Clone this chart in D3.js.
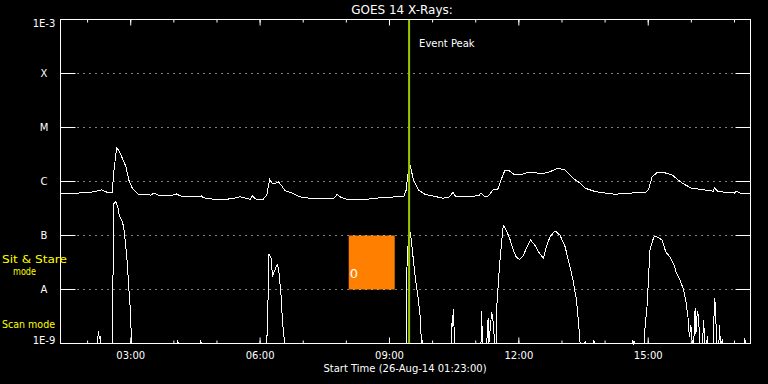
<!DOCTYPE html>
<html>
<head>
<meta charset="utf-8">
<script src="https://cdn.jsdelivr.net/npm/d3@7.9.0/dist/d3.min.js"></script>
<style>
  html, body { margin: 0; padding: 0; background: #000; }
  svg { display: block; font-family: "DejaVu Sans", sans-serif; }
</style>
</head>
<body>
<svg id="chart" width="768" height="384"></svg>
<script>
// long channel (1-8 A)
const longTimes = ['01:23','01:41','01:55','02:09','02:20','02:26','02:35','02:37','02:41','02:44','02:49','02:54','02:58','03:03','03:11','03:29','03:33','03:42','03:56','04:05','04:09','04:28','04:39','04:42','04:56','05:15','05:26','05:33','05:47','05:50','05:55','06:05','06:10','06:14','06:17','06:20','06:26','06:31','06:35','06:45','06:56','07:10','07:29','07:43','07:48','07:52','08:01','08:29','08:48','09:09','09:21','09:24','09:26','09:30','09:34','09:41','09:50','10:01','10:15','10:24','10:29','10:33','10:54','11:06','11:08','11:13','11:18','11:25','11:32','11:36','11:41','11:46','11:55','12:02','12:11','12:21','12:32','12:44','12:55','13:05','13:16','13:26','13:33','13:47','14:01','14:15','14:33','14:57','15:01','15:06','15:13','15:20','15:34','15:48','16:01','16:19','16:31','16:33','16:38','17:01','17:03','17:10','17:23'];
const longFlux = [6.0e-7,5.9e-7,6.3e-7,6.4e-7,7.0e-7,6.4e-7,6.3e-7,1.42e-6,4.2e-6,3.8e-6,2.7e-6,1.9e-6,1.07e-6,7.5e-7,5.8e-7,5.6e-7,6.1e-7,5.4e-7,5.4e-7,5.9e-7,5.4e-7,5.2e-7,5.4e-7,5.0e-7,4.7e-7,4.7e-7,4.95e-7,5.2e-7,4.7e-7,5.4e-7,4.7e-7,4.7e-7,5.6e-7,1.10e-6,9.4e-7,9.0e-7,9.9e-7,8.3e-7,6.8e-7,6.1e-7,5.2e-7,4.9e-7,4.9e-7,4.8e-7,5.8e-7,5.2e-7,4.7e-7,4.7e-7,5.0e-7,5.2e-7,5.4e-7,7.0e-7,1.32e-6,1.88e-6,1.07e-6,7.0e-7,5.8e-7,5.4e-7,4.9e-7,5.2e-7,6.3e-7,5.2e-7,5.2e-7,5.6e-7,6.2e-7,5.2e-7,5.4e-7,7.0e-7,7.3e-7,1.07e-6,1.58e-6,1.63e-6,1.32e-6,1.32e-6,1.44e-6,1.48e-6,1.38e-6,1.52e-6,1.75e-6,1.63e-6,1.15e-6,9.3e-7,7.5e-7,6.5e-7,6.1e-7,5.8e-7,6.1e-7,6.2e-7,7.0e-7,1.20e-6,1.48e-6,1.50e-6,1.32e-6,9.3e-7,7.5e-7,7.0e-7,6.6e-7,7.6e-7,6.5e-7,6.1e-7,6.7e-7,5.9e-7,6.1e-7];

// short channel (0.5-4 A), floor at 1E-9
const shortTimes = ['01:23','02:14','02:16','02:17','02:18','02:19','02:35','02:36','02:37','02:40','02:43','02:45','02:49','02:51','02:53','02:56','02:58','03:00','03:02','04:05','04:06','04:07','04:37','04:38','04:39','06:10','06:11','06:12','06:13','06:16','06:18','06:20','06:23','06:25','06:27','06:30','06:32','06:35','09:24','09:25','09:27','09:30','09:32','09:34','09:37','09:39','09:41','09:44','09:45','09:46','09:47','10:27','10:28','10:29','10:30','10:31','11:08','11:09','11:10','11:16','11:18','11:19','11:21','11:23','11:25','11:27','11:29','11:30','11:34','11:39','11:43','11:48','11:53','11:57','12:02','12:07','12:11','12:17','12:23','12:28','12:35','12:39','12:44','12:51','12:58','13:05','13:12','13:16','13:21','13:25','13:26','13:32','13:33','13:34','13:44','13:45','13:46','14:38','14:39','14:40','14:41','14:42','14:55','14:56','14:59','15:01','15:03','15:07','15:09','15:15','15:20','15:25','15:31','15:36','15:40','15:45','15:50','15:53','15:56','15:58','16:00','16:02','16:04','16:06','16:07','16:09','16:11','16:12','16:16','16:18','16:19','16:22','16:23','16:24','16:31','16:33','16:34','16:36','16:39','16:40','16:41','16:44','16:45','17:14','17:15','17:16','17:23'];
const shortFlux = [1e-9,1e-9,1.7e-9,1.2e-9,1.4e-9,1e-9,1e-9,1.5e-8,3.9e-7,4.2e-7,3.2e-7,2.3e-7,1.8e-7,1.4e-7,8.2e-8,3.0e-8,1.1e-8,4.5e-9,1e-9,1e-9,1.1e-9,1e-9,1e-9,1.1e-9,1e-9,1e-9,2.9e-9,9e-9,4.6e-8,3.75e-8,1.7e-8,2.1e-8,2.6e-8,2.9e-8,2.0e-8,7.3e-9,2.35e-9,1e-9,1e-9,2.5e-8,8.8e-8,1.09e-7,6.2e-8,3.5e-8,1.5e-8,9.7e-9,6.3e-9,2.7e-9,1e-9,1.15e-9,1e-9,1e-9,3.3e-9,2e-9,4.3e-9,1e-9,1e-9,4.0e-9,1e-9,1e-9,3.0e-9,1e-9,2e-9,3.9e-9,2.5e-9,1e-9,1e-9,4.8e-9,3.0e-8,1.55e-7,1.25e-7,8.8e-8,5.3e-8,4.0e-8,3.6e-8,4.3e-8,5.7e-8,8.2e-8,6.6e-8,5.0e-8,3.75e-8,6.2e-8,9.4e-8,1.22e-7,1.01e-7,6.2e-8,2.6e-8,1.5e-8,6.3e-9,1.5e-9,1e-9,1e-9,1.1e-9,1e-9,1e-9,1.15e-9,1e-9,1e-9,1.15e-9,1e-9,1.1e-9,1e-9,1e-9,1.8e-9,4.8e-9,1.5e-8,5.3e-8,8.2e-8,9.7e-8,9.2e-8,8.2e-8,5.0e-8,4.0e-8,3.0e-8,2.0e-8,1.5e-8,9.7e-9,6.3e-9,3.1e-9,1.3e-9,2.2e-9,1e-9,1e-9,4.6e-9,1.5e-9,3.9e-9,3.1e-9,1e-9,1e-9,2.7e-9,1e-9,1e-9,1.4e-9,1e-9,1e-9,6.8e-9,5.5e-9,1e-9,1e-9,2.2e-9,1e-9,1.15e-9,1e-9,1e-9,1.25e-9,1e-9,1e-9];

const yLevels = [1e-9, 1e-8, 1e-7, 1e-6, 1e-5, 1e-4, 1e-3];
const yLabels = ['1E-9', 'A', 'B', 'C', 'M', 'X', '1E-3'];
const gridLevels = [1e-8, 1e-7, 1e-6, 1e-5, 1e-4];

const startTime = '01:23';
const endTime = '17:23';
const eventPeak = '09:28';
const boxStart = '08:04';
const boxEnd = '09:08';
const boxLow = 1e-8;
const boxHigh = 1e-7;

const parse = d3.timeParse('%H:%M');
const svg = d3.select('#chart');
const plotLeft = 60.5, plotRight = 750.5, plotTop = 19.5, plotBottom = 343.5;

const x = d3.scaleTime().domain([parse(startTime), parse(endTime)]).range([plotLeft, plotRight]);
const y = d3.scaleLog().domain([1e-9, 1e-3]).range([plotBottom, plotTop]).clamp(true);

svg.append('rect').attr('width', 768).attr('height', 384).attr('fill', '#000');

// orange box
svg.append('rect')
  .attr('x', x(parse(boxStart)))
  .attr('y', y(boxHigh))
  .attr('width', x(parse(boxEnd)) - x(parse(boxStart)))
  .attr('height', y(boxLow) - y(boxHigh))
  .attr('fill', '#ff8000');
svg.append('text')
  .attr('x', x(parse(boxStart)) + 1)
  .attr('y', y(boxLow) - 12)
  .attr('fill', '#fff')
  .attr('font-size', 13)
  .text('0');

// dotted grid + solid end ticks
gridLevels.forEach((v) => {
  const yy = Math.round(y(v) - 0.5) + 0.5;
  svg.append('line')
    .attr('x1', plotLeft + 17).attr('x2', plotRight - 15)
    .attr('y1', yy).attr('y2', yy)
    .attr('stroke', '#fff').attr('stroke-dasharray', '1,5');
  svg.append('line').attr('x1', plotLeft).attr('x2', plotLeft + 15).attr('y1', yy).attr('y2', yy).attr('stroke', '#fff');
  svg.append('line').attr('x1', plotRight - 15).attr('x2', plotRight).attr('y1', yy).attr('y2', yy).attr('stroke', '#fff');
});

const line = d3.line()
  .x((d) => x(d.t))
  .y((d) => y(d.f));

const longData = longTimes.map((t, i) => ({ t: parse(t), f: longFlux[i] }));
const shortData = shortTimes.map((t, i) => ({ t: parse(t), f: shortFlux[i] }));

[longData, shortData].forEach((data) => {
  svg.append('path')
    .datum(data)
    .attr('d', line)
    .attr('fill', 'none')
    .attr('stroke', '#fff')
    .attr('stroke-width', 1)
    .attr('shape-rendering', 'crispEdges');
});

// event peak marker
svg.append('line')
  .attr('x1', x(parse(eventPeak))).attr('x2', x(parse(eventPeak)))
  .attr('y1', plotTop).attr('y2', plotBottom)
  .attr('stroke', '#99cc00').attr('stroke-width', 2);
svg.append('text')
  .attr('x', x(parse(eventPeak)) + 10)
  .attr('y', 46.5)
  .attr('fill', '#fff')
  .attr('font-size', 10)
  .text('Event Peak');

// frame
svg.append('rect')
  .attr('x', plotLeft).attr('y', plotTop)
  .attr('width', plotRight - plotLeft).attr('height', plotBottom - plotTop)
  .attr('fill', 'none').attr('stroke', '#fff');

// time axes
const minorTop = d3.axisTop(x).ticks(d3.timeHour.every(1)).tickSize(-3).tickFormat('');
const majorTop = d3.axisTop(x).ticks(d3.timeHour.every(3)).tickSize(-6).tickFormat('');
const minorBottom = d3.axisBottom(x).ticks(d3.timeHour.every(1)).tickSize(-3).tickFormat('');
const majorBottom = d3.axisBottom(x).ticks(d3.timeHour.every(3)).tickSize(-6).tickPadding(8)
  .tickFormat(d3.timeFormat('%H:%M'));

[[minorTop, plotTop], [majorTop, plotTop], [minorBottom, plotBottom], [majorBottom, plotBottom]].forEach(([ax, yy]) => {
  const g = svg.append('g').attr('transform', `translate(0,${yy})`).call(ax);
  g.select('.domain').remove();
  g.selectAll('line').attr('stroke', '#fff');
  g.selectAll('text').attr('fill', '#fff').attr('font-size', 10)
    .attr('font-family', '"DejaVu Sans", sans-serif');
});

// y labels
yLevels.forEach((v, i) => {
  let base = y(v) + 3.6;
  if (i === 0) base = plotBottom + 0.5;
  if (i === yLevels.length - 1) base = plotTop + 7.2;
  svg.append('text')
    .attr('x', 44).attr('y', base)
    .attr('text-anchor', 'middle')
    .attr('fill', '#fff').attr('font-size', 10)
    .text(yLabels[i]);
});

// titles
svg.append('text')
  .attr('x', 402).attr('y', 14)
  .attr('text-anchor', 'middle')
  .attr('fill', '#fff').attr('font-size', 12)
  .text('GOES 14 X-Rays:');
svg.append('text')
  .attr('x', 405).attr('y', 372)
  .attr('text-anchor', 'middle')
  .attr('fill', '#fff').attr('font-size', 10)
  .text('Start Time (26-Aug-14 01:23:00)');

// mode labels
const modes = [['Sit & Stare', 2, 262.5, 65], ['mode', 13, 275, 23], ['Scan mode', 2, 328.3, 53]];
modes.forEach(([t, xx, yy, w]) => {
  svg.append('text')
    .attr('x', xx).attr('y', yy)
    .attr('fill', '#ffff00').attr('font-size', 10)
    .attr('textLength', w).attr('lengthAdjust', 'spacingAndGlyphs')
    .text(t);
});
</script>
</body>
</html>
